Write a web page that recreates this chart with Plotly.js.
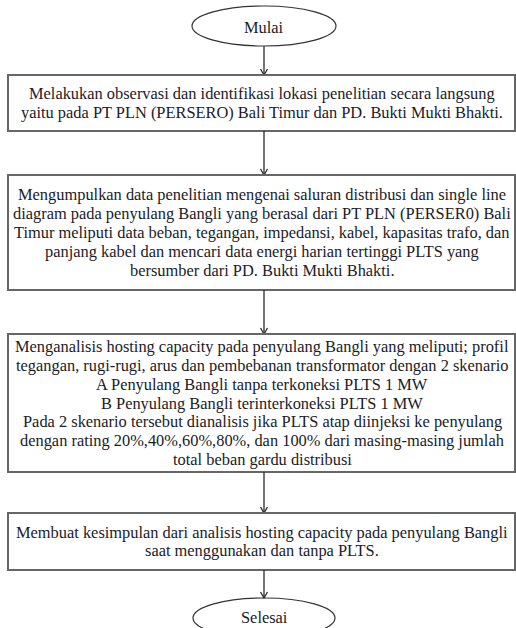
<!DOCTYPE html>
<html>
<head>
<meta charset="utf-8">
<script src="https://cdn.plot.ly/plotly-3.0.1.min.js"></script>
<style>html,body{margin:0;padding:0;background:#fff;}#chart{width:516px;height:628px;}</style>
</head>
<body>
<div id="chart"></div>
<script>
// ---- flowchart content ----
const startLabel = "Mulai";
const endLabel = "Selesai";
const step1Lines = [
  "Melakukan observasi dan identifikasi lokasi penelitian secara langsung",
  "yaitu pada PT PLN (PERSERO) Bali Timur dan PD. Bukti Mukti Bhakti."
];
const step2Lines = [
  "Mengumpulkan data penelitian mengenai saluran distribusi dan single line",
  "diagram pada penyulang Bangli yang berasal dari PT PLN (PERSER0) Bali",
  "Timur meliputi data beban, tegangan, impedansi, kabel, kapasitas trafo, dan",
  "panjang kabel dan mencari data energi harian tertinggi PLTS yang",
  "bersumber dari PD. Bukti Mukti Bhakti."
];
const step3Lines = [
  "Menganalisis hosting capacity pada penyulang Bangli yang meliputi; profil",
  "tegangan, rugi-rugi, arus dan pembebanan transformator dengan 2 skenario",
  "A Penyulang Bangli tanpa terkoneksi PLTS 1 MW",
  "B Penyulang Bangli terinterkoneksi PLTS 1 MW",
  "Pada 2 skenario tersebut dianalisis jika PLTS atap diinjeksi ke penyulang",
  "dengan rating 20%,40%,60%,80%, dan 100% dari masing-masing jumlah",
  "total beban gardu distribusi"
];
const step4Lines = [
  "Membuat kesimpulan dari analisis hosting capacity pada penyulang Bangli",
  "saat menggunakan dan tanpa PLTS."
];
const steps = [step1Lines, step2Lines, step3Lines, step4Lines];

// ---- geometry (layout only) ----
const cx = 264;          // connector axis
const textX = 262;       // text centre inside boxes
const boxLeft = 8, boxRight = 515;
const boxTop = [75, 175, 334, 513];
const boxBottom = [131, 290, 472, 570];
const startEllipse = {x0: 192, x1: 336, y0: 6, y1: 46};
const endEllipse = {x0: 193, x1: 335, y0: 598, y1: 638};
const lineGap = 18.9;
const fontSize = 16.4;
const textColor = '#1b1b26';
const textFont = 'Liberation Serif, serif';

const shapes = [];
const annotations = [];

function arrow(yFrom, yTo) {
  shapes.push({type: 'line', xref: 'x', yref: 'y', x0: cx, x1: cx, y0: yFrom, y1: yTo,
    line: {color: '#2a2a2a', width: 1.3}});
  shapes.push({type: 'path', xref: 'x', yref: 'y',
    path: `M ${cx - 3.5},${yTo - 6} L ${cx},${yTo} L ${cx + 3.5},${yTo - 6}`,
    line: {color: '#2a2a2a', width: 1.3}});
}

function label(text, x, y) {
  annotations.push({x: x, y: y, xref: 'x', yref: 'y', text: text,
    showarrow: false, font: {family: textFont, size: fontSize, color: textColor},
    xanchor: 'center', yanchor: 'middle', borderpad: 0});
}

// start ellipse
shapes.push(Object.assign({type: 'circle', xref: 'x', yref: 'y', line: {color: '#333', width: 1.2}}, startEllipse));
label(startLabel, cx, (startEllipse.y0 + startEllipse.y1) / 2 + 1);

let prevBottom = startEllipse.y1;
steps.forEach((lines, i) => {
  arrow(prevBottom, boxTop[i]);
  shapes.push({type: 'rect', xref: 'x', yref: 'y', x0: boxLeft, x1: boxRight, y0: boxTop[i], y1: boxBottom[i],
    line: {color: '#666', width: 2}, fillcolor: 'rgba(0,0,0,0)'});
  const mid = (boxTop[i] + boxBottom[i]) / 2;
  const n = lines.length;
  lines.forEach((t, j) => label(t, textX, mid + (j - (n - 1) / 2) * lineGap));
  prevBottom = boxBottom[i];
});

arrow(prevBottom, endEllipse.y0);
shapes.push(Object.assign({type: 'circle', xref: 'x', yref: 'y', line: {color: '#333', width: 1.2}}, endEllipse));
label(endLabel, cx, 617);

const layout = {
  width: 516, height: 628,
  margin: {l: 0, r: 0, t: 0, b: 0},
  paper_bgcolor: '#fff', plot_bgcolor: '#fff',
  xaxis: {range: [0, 516], visible: false, fixedrange: true},
  yaxis: {range: [628, 0], visible: false, fixedrange: true},
  shapes: shapes,
  annotations: annotations,
  showlegend: false
};

Plotly.newPlot('chart', [], layout, {staticPlot: true, displayModeBar: false});
</script>
</body>
</html>
